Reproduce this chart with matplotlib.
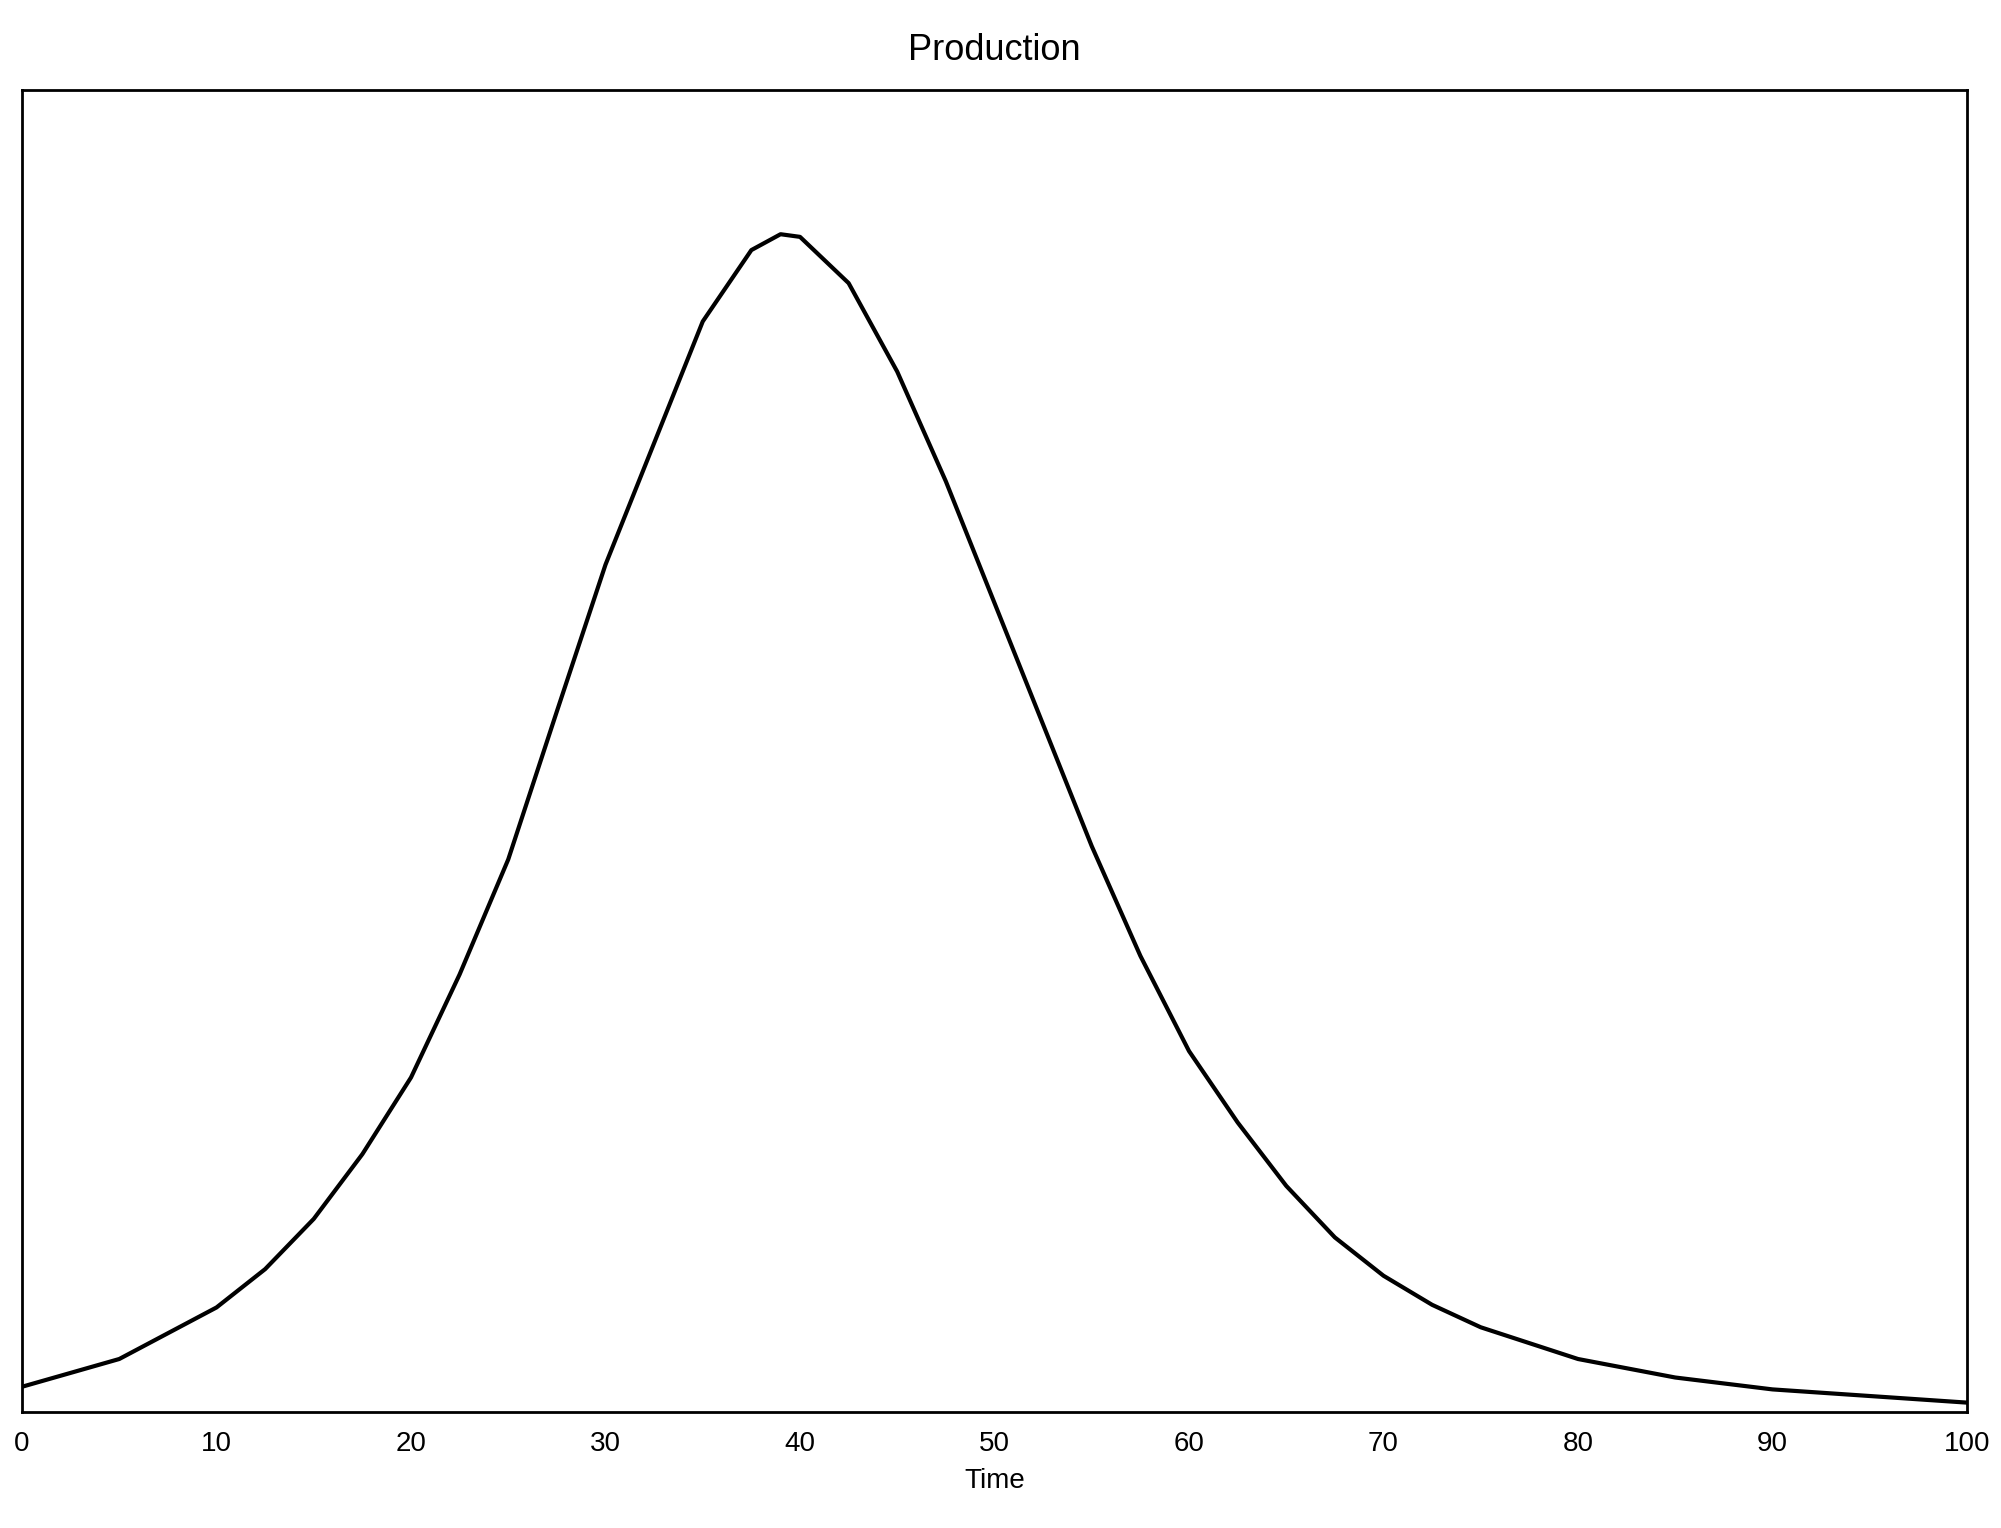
import matplotlib
matplotlib.use("Agg")
import matplotlib.pyplot as plt

plt.rcParams['font.family'] = ['Liberation Sans', 'DejaVu Sans']

# values
time = [0, 5, 10, 12.5, 15, 17.5, 20, 22.5, 25, 27.5, 30, 32.5, 35, 37.5, 39, 40,
        42.5, 45, 47.5, 50, 52.5, 55, 57.5, 60, 62.5, 65, 67.5, 70, 72.5, 75,
        80, 85, 90, 95, 100]
production = [0.019, 0.040, 0.079, 0.108, 0.146, 0.195, 0.253, 0.331, 0.418, 0.530,
              0.641, 0.733, 0.825, 0.879, 0.891, 0.889, 0.854, 0.787, 0.704, 0.612,
              0.520, 0.428, 0.345, 0.273, 0.219, 0.171, 0.132, 0.103, 0.081, 0.064,
              0.040, 0.026, 0.017, 0.012, 0.007]
xticks = [0, 10, 20, 30, 40, 50, 60, 70, 80, 90, 100]

fig = plt.figure(figsize=(20.01, 15.28), dpi=100)
ax = fig.add_axes([0.011, 0.076, 0.972, 0.865])
ax.plot(time, production, color="black", linewidth=3)
ax.set_xlim(0, 100)
ax.set_ylim(0, 1)
ax.set_xticks(xticks)
ax.set_yticks([])
ax.tick_params(axis="x", length=0, labelsize=20, pad=14)
for s in ax.spines.values():
    s.set_linewidth(2)
ax.set_xlabel("Time", fontsize=20, labelpad=8)
ax.set_title("Production", fontsize=26, pad=22)
fig.savefig("out.png", dpi=100)
